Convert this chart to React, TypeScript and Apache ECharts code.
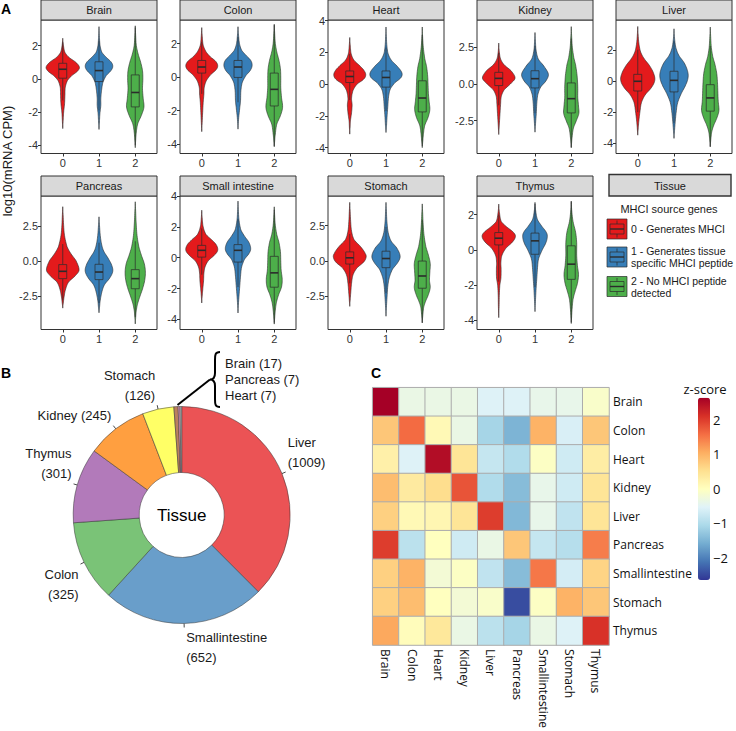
import React, { useEffect, useRef } from 'react';
import * as echarts from 'echarts';

// ---------- DATA ----------
const tissues = ['Brain', 'Colon', 'Heart', 'Kidney', 'Liver', 'Pancreas', 'Small intestine', 'Stomach', 'Thymus'];
const groupTicks = [0, 1, 2];
const groupColors = ['#E41A1C', '#377EB8', '#4DAF4A'];
const legendTitle = 'MHCI source genes';
const legendLabels = ['0 - Generates MHCI', '1 - Generates tissue\nspecific MHCI peptide', '2 - No MHCI peptide\ndetected'];

const yMin = [-4.5, -4.55, -4.37, -4.73, -4.69, -4.88, -4.65, -4.88, -4.51];
const yMax = [3.55, 3.4, 4.04, 4.35, 3.98, 4.62, 4.0, 4.6, 3.05];
const yTicks = [
  [-4, -2, 0, 2], [-4, -2, 0, 2], [-4, -2, 0, 2, 4], [-2.5, 0, 2.5], [-4, -2, 0, 2],
  [-2.5, 0, 2.5], [-4, -2, 0, 2, 4], [-2.5, 0, 2.5], [-4, -2, 0, 2],
];

// violin outlines: [value, half-width] knots, per group 0,1,2
const brainViolins = [
  [[2.45, 0], [2.0, 0.02], [1.6, 0.06], [1.3, 0.17], [1.0, 0.36], [0.7, 0.46], [0.45, 0.4], [0.2, 0.25], [-0.1, 0.13], [-0.5, 0.07], [-1.0, 0.06], [-1.5, 0.05], [-2.0, 0.025], [-2.5, 0.012], [-3.0, 0]],
  [[3.15, 0], [2.5, 0.012], [2.0, 0.03], [1.6, 0.08], [1.3, 0.2], [1.0, 0.34], [0.75, 0.38], [0.5, 0.33], [0.2, 0.2], [-0.2, 0.11], [-0.7, 0.07], [-1.2, 0.05], [-1.6, 0.05], [-2.1, 0.025], [-2.6, 0.012], [-3.05, 0]],
  [[3.2, 0], [2.6, 0.012], [2.0, 0.03], [1.5, 0.08], [1.0, 0.15], [0.5, 0.2], [0.0, 0.21], [-0.6, 0.2], [-1.2, 0.22], [-1.7, 0.24], [-2.2, 0.17], [-2.7, 0.07], [-3.2, 0.03], [-3.7, 0.012], [-4.15, 0]],
];
const colonViolins = [
  [[2.95, 0], [2.4, 0.015], [1.9, 0.04], [1.5, 0.12], [1.2, 0.24], [0.95, 0.38], [0.7, 0.44], [0.45, 0.4], [0.15, 0.25], [-0.2, 0.13], [-0.6, 0.07], [-1.0, 0.06], [-1.5, 0.04], [-2.1, 0.025], [-2.7, 0.012], [-3.25, 0]],
  [[3.0, 0], [2.5, 0.015], [2.0, 0.04], [1.6, 0.1], [1.3, 0.22], [1.0, 0.35], [0.7, 0.39], [0.4, 0.34], [0.1, 0.22], [-0.3, 0.12], [-0.8, 0.08], [-1.4, 0.07], [-1.8, 0.05], [-2.4, 0.02], [-3.1, 0]],
  [[3.15, 0], [2.6, 0.012], [2.0, 0.03], [1.5, 0.07], [1.0, 0.13], [0.5, 0.17], [0.0, 0.18], [-0.6, 0.18], [-1.2, 0.2], [-1.8, 0.23], [-2.3, 0.17], [-2.8, 0.07], [-3.4, 0.03], [-3.8, 0.012], [-4.15, 0]],
];
const heartViolins = [
  [[2.94, 0], [2.4, 0.015], [1.9, 0.04], [1.5, 0.12], [1.1, 0.3], [0.8, 0.41], [0.55, 0.44], [0.3, 0.38], [0.0, 0.2], [-0.4, 0.09], [-0.9, 0.05], [-1.3, 0.065], [-1.8, 0.05], [-2.3, 0.02], [-2.7, 0.01], [-3.15, 0]],
  [[3.6, 0], [3.0, 0.01], [2.4, 0.025], [1.9, 0.06], [1.5, 0.15], [1.1, 0.32], [0.7, 0.44], [0.4, 0.41], [0.1, 0.25], [-0.3, 0.12], [-0.8, 0.07], [-1.4, 0.05], [-2.0, 0.03], [-2.6, 0.015], [-3.05, 0]],
  [[3.6, 0], [3.0, 0.01], [2.3, 0.03], [1.6, 0.07], [1.1, 0.12], [0.5, 0.15], [0.0, 0.16], [-0.6, 0.17], [-1.1, 0.19], [-1.6, 0.21], [-2.1, 0.16], [-2.6, 0.07], [-3.1, 0.035], [-3.6, 0.015], [-4.0, 0]],
];
const kidneyViolins = [
  [[2.78, 0], [2.2, 0.015], [1.7, 0.05], [1.3, 0.15], [0.9, 0.34], [0.4, 0.45], [0.0, 0.32], [-0.4, 0.15], [-0.85, 0.07], [-1.4, 0.05], [-2.0, 0.035], [-2.6, 0.02], [-3.0, 0.01], [-3.44, 0]],
  [[3.5, 0], [2.9, 0.012], [2.3, 0.03], [1.7, 0.09], [1.2, 0.25], [0.65, 0.37], [0.2, 0.3], [-0.2, 0.16], [-0.7, 0.08], [-1.3, 0.05], [-2.0, 0.035], [-2.7, 0.015], [-3.28, 0]],
  [[3.9, 0], [3.2, 0.012], [2.5, 0.03], [1.8, 0.07], [1.3, 0.12], [0.6, 0.16], [-0.2, 0.18], [-0.9, 0.18], [-1.5, 0.2], [-2.0, 0.21], [-2.5, 0.14], [-3.0, 0.06], [-3.6, 0.025], [-4.0, 0.01], [-4.34, 0]],
];
const liverViolins = [
  [[3.56, 0], [3.0, 0.012], [2.4, 0.035], [1.9, 0.08], [1.5, 0.17], [1.0, 0.33], [0.5, 0.44], [0.06, 0.47], [-0.4, 0.38], [-0.9, 0.2], [-1.4, 0.1], [-2.0, 0.06], [-2.6, 0.03], [-3.1, 0.012], [-3.5, 0]],
  [[3.41, 0], [2.8, 0.015], [2.2, 0.05], [1.7, 0.13], [1.2, 0.28], [0.7, 0.37], [0.28, 0.39], [-0.2, 0.33], [-0.8, 0.2], [-1.4, 0.1], [-2.0, 0.06], [-2.6, 0.035], [-3.2, 0.015], [-3.71, 0]],
  [[3.52, 0], [2.9, 0.012], [2.2, 0.03], [1.6, 0.07], [1.1, 0.13], [0.5, 0.18], [-0.1, 0.2], [-0.7, 0.21], [-1.3, 0.22], [-1.9, 0.24], [-2.4, 0.18], [-2.9, 0.09], [-3.3, 0.04], [-3.8, 0.015], [-4.25, 0]],
];
const pancreasViolins = [
  [[3.86, 0], [3.2, 0.012], [2.5, 0.025], [1.8, 0.05], [1.0, 0.12], [0.5, 0.23], [0.0, 0.37], [-0.67, 0.45], [-1.1, 0.33], [-1.5, 0.16], [-2.0, 0.08], [-2.5, 0.04], [-3.0, 0.015], [-3.36, 0]],
  [[3.14, 0], [2.5, 0.015], [1.8, 0.035], [1.2, 0.07], [0.7, 0.13], [0.2, 0.25], [-0.3, 0.35], [-0.74, 0.38], [-1.2, 0.3], [-1.7, 0.15], [-2.2, 0.08], [-2.8, 0.035], [-3.3, 0.015], [-3.69, 0]],
  [[4.21, 0], [3.5, 0.012], [2.7, 0.025], [1.8, 0.05], [1.0, 0.1], [0.4, 0.17], [-0.2, 0.25], [-0.8, 0.28], [-1.4, 0.26], [-2.0, 0.2], [-2.6, 0.12], [-3.1, 0.06], [-3.6, 0.025], [-4.1, 0.01], [-4.48, 0]],
];
const smallIntestineViolins = [
  [[3.08, 0], [2.5, 0.015], [2.0, 0.04], [1.5, 0.12], [1.1, 0.3], [0.8, 0.41], [0.48, 0.44], [0.2, 0.36], [-0.2, 0.18], [-0.6, 0.09], [-1.0, 0.06], [-1.5, 0.05], [-2.0, 0.03], [-2.5, 0.012], [-2.93, 0]],
  [[3.67, 0], [3.0, 0.012], [2.4, 0.03], [1.8, 0.08], [1.4, 0.18], [1.0, 0.3], [0.6, 0.35], [0.3, 0.31], [-0.1, 0.18], [-0.6, 0.1], [-1.2, 0.07], [-1.8, 0.05], [-2.4, 0.03], [-3.0, 0.012], [-3.58, 0]],
  [[3.3, 0], [2.7, 0.012], [2.1, 0.03], [1.5, 0.07], [1.0, 0.13], [0.4, 0.17], [-0.2, 0.18], [-0.8, 0.19], [-1.4, 0.22], [-1.9, 0.2], [-2.4, 0.12], [-2.9, 0.06], [-3.4, 0.03], [-3.9, 0.012], [-4.3, 0]],
];
const stomachViolins = [
  [[4.15, 0], [3.5, 0.012], [2.8, 0.025], [2.1, 0.05], [1.5, 0.12], [1.0, 0.3], [0.5, 0.43], [0.23, 0.45], [-0.1, 0.38], [-0.5, 0.2], [-1.0, 0.09], [-1.6, 0.05], [-2.2, 0.03], [-2.8, 0.012], [-3.24, 0]],
  [[4.15, 0], [3.5, 0.012], [2.8, 0.025], [2.0, 0.06], [1.4, 0.14], [0.9, 0.3], [0.33, 0.39], [-0.1, 0.33], [-0.6, 0.18], [-1.2, 0.09], [-1.8, 0.05], [-2.5, 0.03], [-3.3, 0.012], [-3.94, 0]],
  [[4.04, 0], [3.4, 0.012], [2.6, 0.025], [1.8, 0.05], [1.0, 0.1], [0.4, 0.17], [-0.2, 0.22], [-0.8, 0.21], [-1.4, 0.2], [-1.9, 0.22], [-2.4, 0.17], [-2.9, 0.09], [-3.3, 0.04], [-3.9, 0.015], [-4.41, 0]],
];
const thymusViolins = [
  [[2.59, 0], [2.1, 0.02], [1.6, 0.07], [1.3, 0.22], [1.0, 0.4], [0.76, 0.46], [0.45, 0.38], [0.1, 0.2], [-0.3, 0.09], [-0.7, 0.06], [-1.1, 0.065], [-1.6, 0.06], [-2.0, 0.03], [-2.6, 0.015], [-3.2, 0.01], [-3.84, 0]],
  [[2.69, 0], [2.2, 0.02], [1.7, 0.07], [1.3, 0.2], [1.0, 0.31], [0.76, 0.34], [0.4, 0.3], [0.0, 0.2], [-0.5, 0.1], [-1.0, 0.07], [-1.6, 0.05], [-2.2, 0.03], [-2.8, 0.015], [-3.5, 0]],
  [[2.75, 0], [2.2, 0.015], [1.6, 0.05], [1.0, 0.12], [0.4, 0.15], [-0.3, 0.15], [-0.9, 0.17], [-1.4, 0.2], [-1.9, 0.17], [-2.4, 0.1], [-2.8, 0.05], [-3.3, 0.025], [-3.8, 0.01], [-4.17, 0]],
];

// boxplot stats per group: [lower whisker, Q1, median, Q3, upper whisker]
const brainBoxes = [[-1.3, 0.04, 0.58, 0.94, 2.2], [-1.9, -0.16, 0.5, 1.03, 2.3], [-4.0, -1.69, -0.82, 0.24, 3.1]];
const colonBoxes = [[-1.0, 0.24, 0.6, 0.99, 2.1], [-1.5, -0.02, 0.6, 0.99, 2.4], [-4.1, -1.72, -0.73, 0.24, 3.1]];
const heartBoxes = [[-1.0, 0.1, 0.48, 0.83, 1.9], [-1.7, -0.19, 0.42, 0.83, 2.3], [-3.9, -1.75, -0.875, 0.21, 3.1]];
const kidneyBoxes = [[-1.45, -0.11, 0.38, 0.79, 2.1], [-2.0, -0.27, 0.36, 0.9, 2.6], [-4.3, -1.97, -1.0, 0.07, 3.1]];
const liverBoxes = [[-2.0, -0.63, 0.0, 0.45, 2.05], [-2.7, -0.69, 0.06, 0.65, 2.6], [-4.25, -1.94, -1.08, -0.22, 2.3]];
const pancreasBoxes = [[-2.8, -1.26, -0.74, -0.26, 1.2], [-3.0, -1.33, -0.79, -0.24, 1.3], [-4.0, -1.98, -1.26, -0.62, 1.4]];
const smallIntestineBoxes = [[-1.1, 0.04, 0.48, 0.8, 1.9], [-1.9, -0.28, 0.48, 0.85, 2.5], [-4.2, -1.91, -0.98, 0.09, 3.1]];
const stomachBoxes = [[-1.6, -0.23, 0.21, 0.63, 1.9], [-2.3, -0.49, 0.16, 0.68, 2.4], [-4.4, -1.95, -1.08, -0.02, 2.9]];
const thymusBoxes = [[-1.8, 0.28, 0.66, 0.98, 2.0], [-2.1, -0.25, 0.51, 0.95, 2.6], [-4.1, -1.67, -0.81, 0.23, 2.75]];

const violinSets = [brainViolins, colonViolins, heartViolins, kidneyViolins, liverViolins, pancreasViolins, smallIntestineViolins, stomachViolins, thymusViolins];
const boxSets = [brainBoxes, colonBoxes, heartBoxes, kidneyBoxes, liverBoxes, pancreasBoxes, smallIntestineBoxes, stomachBoxes, thymusBoxes];

// pie
const pieNames = ['Liver', 'Smallintestine', 'Colon', 'Thymus', 'Kidney', 'Stomach', 'Brain', 'Pancreas', 'Heart'];
const pieValues = [1009, 652, 325, 301, 245, 126, 17, 7, 7];
const pieColors = ['#EB5355', '#699ECA', '#7AC377', '#B27ABA', '#FF9F40', '#FFFF66', '#BC805E', '#F9A1CF', '#B3B3B3'];
const pieSmallNote = ['Brain (17)', 'Pancreas (7)', 'Heart (7)'];

// heatmap
const heatLabels = ['Brain', 'Colon', 'Heart', 'Kidney', 'Liver', 'Pancreas', 'Smallintestine', 'Stomach', 'Thymus'];
const zBrain = [2.64, -0.35, -0.35, -0.35, -0.55, -0.55, -0.4, -0.4, -0.1];
const zColon = [0.8, 1.6, 0.1, -0.35, -1.1, -1.5, 1.0, -0.6, 0.8];
const zHeart = [0.25, -0.55, 2.5, 0.45, -0.8, -1.0, -0.05, -0.7, 0.3];
const zKidney = [0.9, 0.35, 0.55, 1.8, -1.0, -1.4, -0.4, -0.7, 0.45];
const zLiver = [0.7, 0.1, 0.15, 0.45, 2.0, -1.45, -0.4, -0.85, 0.45];
const zPancreas = [2.0, -0.9, 0.0, -0.7, -0.35, 0.8, -0.8, -0.95, 1.45];
const zSmallintestine = [0.7, 1.0, -0.2, -0.05, -0.85, -1.4, 1.5, -0.65, 0.65];
const zStomach = [0.7, 0.9, 0.0, -0.2, -0.1, -2.45, -0.05, 1.0, 0.8];
const zThymus = [1.1, 0.05, 0.4, -0.35, -0.9, -1.1, -0.35, -0.55, 2.1];
const zRows = [zBrain, zColon, zHeart, zKidney, zLiver, zPancreas, zSmallintestine, zStomach, zThymus];
const zMin = -2.64;
const zMax = 2.64;
const zTicks = [-2, -1, 0, 1, 2];
const heatColors = ['#313695', '#4575B4', '#74ADD1', '#ABD9E9', '#E0F3F8', '#FFFFBF', '#FEE090', '#FDAE61', '#F46D43', '#D73027', '#A50026'];

// ---------- LAYOUT ----------
const FONT = 'Liberation Sans';
const colLefts = [41, 180, 328, 477, 616];
const panelW = 116;
const rowTops = [20, 196];
const panelH = 133.5;
const stripH = 20;
const INK = '#2B2B2B';

const braceD = 'M10,0 C5,0 5,3 5,8 L5,21 C5,25.5 3,27.5 0,27.5 C3,27.5 5,29.5 5,34 L5,47 C5,52 5,55 10,55';
echarts.graphic.registerShape('brace', echarts.graphic.extendPath(braceD, {}));

// Catmull-Rom resampling of the outline knots (rendering only)
function resample(knots: number[][]): number[][] {
  const out: number[][] = [];
  const n = knots.length;
  const steps = 6;
  for (let i = 0; i < n - 1; i++) {
    const p0 = knots[Math.max(i - 1, 0)];
    const p1 = knots[i];
    const p2 = knots[i + 1];
    const p3 = knots[Math.min(i + 2, n - 1)];
    for (let s = 0; s < steps; s++) {
      const t = s / steps;
      const t2 = t * t, t3 = t2 * t;
      const f = (a: number, b: number, c: number, d: number) =>
        0.5 * (2 * b + (-a + c) * t + (2 * a - 5 * b + 4 * c - d) * t2 + (-a + 3 * b - 3 * c + d) * t3);
      const y = p1[0] + (p2[0] - p1[0]) * t;
      const w = f(p0[1], p1[1], p2[1], p3[1]);
      out.push([y, Math.max(w, 0.004)]);
    }
  }
  out.push([knots[n - 1][0], 0]);
  out[0][1] = 0;
  return out;
}

function makeRenderItem(shapes: number[][][], boxes: number[][]) {
  return (params: any, api: any) => {
    const g = api.value(0);
    const knots = resample(shapes[g]);
    const pts: number[][] = [];
    for (const [y, w] of knots) pts.push(api.coord([g + w, y]));
    for (let k = knots.length - 2; k >= 1; k--) {
      const [y, w] = knots[k];
      pts.push(api.coord([g - w, y]));
    }
    const [lo, q1, med, q3, hi] = boxes[g];
    const bw = 0.11;
    const pTop = api.coord([g - bw, q3]);
    const pBot = api.coord([g + bw, q1]);
    const pHi = api.coord([g, hi]);
    const pLo = api.coord([g, lo]);
    const mL = api.coord([g - bw, med]);
    const mR = api.coord([g + bw, med]);
    const col = groupColors[g];
    return {
      type: 'group',
      children: [
        { type: 'polygon', shape: { points: pts }, style: { fill: col, stroke: INK, lineWidth: 0.6 } },
        { type: 'line', shape: { x1: pHi[0], y1: pHi[1], x2: pHi[0], y2: pTop[1] }, style: { stroke: INK, lineWidth: 0.7 } },
        { type: 'line', shape: { x1: pLo[0], y1: pBot[1], x2: pLo[0], y2: pLo[1] }, style: { stroke: INK, lineWidth: 0.7 } },
        { type: 'rect', shape: { x: pTop[0], y: pTop[1], width: pBot[0] - pTop[0], height: pBot[1] - pTop[1] }, style: { fill: col, stroke: INK, lineWidth: 0.7 } },
        { type: 'line', shape: { x1: mL[0], y1: mL[1], x2: mR[0], y2: mR[1] }, style: { stroke: INK, lineWidth: 1.6 } },
      ],
    };
  };
}

function buildOption() {
  const grid: any[] = [];
  const xAxis: any[] = [];
  const yAxis: any[] = [];
  const series: any[] = [];
  const graphic: any[] = [];

  tissues.forEach((t, i) => {
    const row = i < 5 ? 0 : 1;
    const col = i < 5 ? i : i - 5;
    const left = colLefts[col];
    const top = rowTops[row];
    grid.push({ left, top, width: panelW, height: panelH, show: true, borderColor: '#333', borderWidth: 1, backgroundColor: 'transparent' });
    xAxis.push({
      gridIndex: i, type: 'value', min: -0.6, max: 2.6, position: 'bottom',
      axisLine: { show: false, onZero: false }, splitLine: { show: false },
      axisTick: { show: true, length: 3, customValues: groupTicks, lineStyle: { color: '#333' } },
      axisLabel: { customValues: groupTicks, color: '#333', fontSize: 11, fontFamily: FONT, margin: 4 },
    });
    const dec = yTicks[i].some((v) => v % 1 !== 0);
    yAxis.push({
      gridIndex: i, type: 'value', min: yMin[i], max: yMax[i], position: 'left',
      axisLine: { show: false, onZero: false }, splitLine: { show: false },
      axisTick: { show: true, length: 3, customValues: yTicks[i], lineStyle: { color: '#333' } },
      axisLabel: { customValues: yTicks[i], color: '#333', fontSize: 11, fontFamily: FONT, margin: 3, formatter: (v: number) => (dec ? v.toFixed(1) : String(v)) },
    });
    series.push({
      type: 'custom', xAxisIndex: i, yAxisIndex: i,
      renderItem: makeRenderItem(violinSets[i] as any, boxSets[i]),
      data: groupTicks.map((g) => [g, boxSets[i][g][2]]),
      silent: true, clip: false,
    });
    graphic.push({ type: 'rect', shape: { x: left, y: top - stripH, width: panelW, height: stripH }, style: { fill: '#D9D9D9', stroke: '#333', lineWidth: 1 } });
    graphic.push({ type: 'text', x: left + panelW / 2, y: top - stripH / 2, style: { text: t, fontSize: 11, fontFamily: FONT, fill: '#1A1A1A', align: 'center', verticalAlign: 'middle' } });
  });

  // heatmap grid (index 9)
  const hmLeft = 372.7, hmTop = 387.7, hmW = 236.3, hmH = 264;
  grid.push({ left: hmLeft, top: hmTop, width: hmW, height: hmH });
  xAxis.push({
    gridIndex: 9, type: 'category', data: heatLabels, position: 'bottom',
    axisLine: { show: false }, axisTick: { show: false }, splitLine: { show: false },
    axisLabel: { rotate: -90, fontSize: 12, fontFamily: 'Open Sans', color: '#111', margin: 4 },
  });
  yAxis.push({
    gridIndex: 9, type: 'category', data: heatLabels, inverse: true, position: 'right',
    axisLine: { show: false }, axisTick: { show: false }, splitLine: { show: false },
    axisLabel: { fontSize: 12, fontFamily: 'Open Sans', color: '#111', margin: 4 },
  });
  // colorbar axis grid (index 10)
  const cbTop = 397.7, cbH = 182.3;
  grid.push({ left: 705, top: cbTop, width: 5, height: cbH });
  xAxis.push({ gridIndex: 10, type: 'value', show: false });
  yAxis.push({
    gridIndex: 10, type: 'value', min: zMin, max: zMax, position: 'right',
    axisLine: { show: false, onZero: false }, axisTick: { show: false }, splitLine: { show: false },
    axisLabel: { customValues: zTicks, fontSize: 13, fontFamily: 'Open Sans', color: '#111', margin: 3, formatter: (v: number) => (v < 0 ? '\u2212' + Math.abs(v) : String(v)) },
  });

  // pie (series 9)
  series.push({
    type: 'pie', center: [181.7, 515], radius: [42.5, 108.5], startAngle: 90, clockwise: true,
    avoidLabelOverlap: false, silent: true,
    itemStyle: { borderColor: '#333', borderWidth: 0.5 },
    data: pieNames.map((n, k) => ({
      name: n, value: pieValues[k], itemStyle: { color: pieColors[k] },
      label: { show: k < 6 }, labelLine: { show: k < 6 },
    })),
    label: {
      show: true, position: 'outside', fontSize: 13, fontFamily: FONT, color: '#1A1A1A', lineHeight: 20,
      formatter: (p: any) => p.name + (p.name === 'Kidney' ? ' ' : '\n') + '(' + p.value + ')',
    },
    labelLine: { show: true, length: 4, length2: 0, lineStyle: { color: '#1A1A1A', width: 0.8 } },
    labelLayout: (params: any) => {
      const pts = params.labelLinePoints;
      if (!pts || pts.length < 2) return {};
      const a = pts[0];
      const b = pts[pts.length - 1];
      const right = b[0] >= a[0];
      const up = b[1] < a[1];
      return { x: b[0] + (right ? 2 : -2), y: b[1], align: right ? 'left' : 'right', verticalAlign: up ? 'bottom' : 'top', labelLinePoints: pts };
    },
  });

  // heatmap (series 10)
  const hmData: number[][] = [];
  zRows.forEach((row, r) => row.forEach((v, c) => hmData.push([c, r, v])));
  series.push({
    type: 'heatmap', xAxisIndex: 9, yAxisIndex: 9, data: hmData, silent: true,
    itemStyle: { borderColor: '#ACACAC', borderWidth: 1 },
  });
  // colorbar axis holder (series 11)
  series.push({ type: 'scatter', xAxisIndex: 10, yAxisIndex: 10, data: [], silent: true });

  // ---- graphic annotations ----
  graphic.push({ type: 'text', x: 1, y: 2, style: { text: 'A', fontSize: 14, fontWeight: 'bold', fontFamily: FONT, fill: '#000' } });
  graphic.push({ type: 'text', x: 1, y: 366, style: { text: 'B', fontSize: 14, fontWeight: 'bold', fontFamily: FONT, fill: '#000' } });
  graphic.push({ type: 'text', x: 371, y: 366, style: { text: 'C', fontSize: 14, fontWeight: 'bold', fontFamily: FONT, fill: '#000' } });
  graphic.push({ type: 'text', x: 7.5, y: 161, rotation: Math.PI / 2, style: { text: 'log10(mRNA CPM)', fontSize: 13, fontFamily: FONT, fill: '#1A1A1A', align: 'center', verticalAlign: 'middle' } });

  // legend
  graphic.push({ type: 'rect', shape: { x: 609, y: 174.5, width: 122, height: 21.5 }, style: { fill: '#D9D9D9', stroke: '#333', lineWidth: 1.4 } });
  graphic.push({ type: 'text', x: 670, y: 185.5, style: { text: 'Tissue', fontSize: 11, fontFamily: FONT, fill: '#1A1A1A', align: 'center', verticalAlign: 'middle' } });
  graphic.push({ type: 'text', x: 669, y: 209, style: { text: legendTitle, fontSize: 11, fontFamily: FONT, fill: '#1A1A1A', align: 'center', verticalAlign: 'middle' } });
  const keyYs = [219, 247, 276.5];
  legendLabels.forEach((lab, k) => {
    const x = 607, y = keyYs[k], s = 20;
    graphic.push({ type: 'rect', shape: { x, y, width: s, height: s }, style: { fill: groupColors[k], stroke: INK, lineWidth: 0.7 } });
    graphic.push({ type: 'line', shape: { x1: x + s / 2, y1: y + 1.5, x2: x + s / 2, y2: y + 5 }, style: { stroke: INK, lineWidth: 0.7 } });
    graphic.push({ type: 'line', shape: { x1: x + s / 2, y1: y + 15, x2: x + s / 2, y2: y + 18.5 }, style: { stroke: INK, lineWidth: 0.7 } });
    graphic.push({ type: 'rect', shape: { x: x + 3, y: y + 5, width: 14, height: 10 }, style: { fill: 'none', stroke: INK, lineWidth: 0.7 } });
    graphic.push({ type: 'line', shape: { x1: x + 3, y1: y + 10, x2: x + 17, y2: y + 10 }, style: { stroke: INK, lineWidth: 1.4 } });
    graphic.push({ type: 'text', x: 631, y: y + s / 2, style: { text: lab, fontSize: 10.5, fontFamily: FONT, fill: '#1A1A1A', align: 'left', verticalAlign: 'middle', lineHeight: 12 } });
  });

  // pie centre and small-slice note
  graphic.push({ type: 'text', x: 181.7, y: 515, style: { text: 'Tissue', fontSize: 17, fontFamily: FONT, fill: '#000', align: 'center', verticalAlign: 'middle' } });
  graphic.push({ type: 'brace', x: 210, y: 352, style: { fill: 'none', stroke: '#000', lineWidth: 2 } });
  graphic.push({ type: 'line', shape: { x1: 210, y1: 379.5, x2: 177.5, y2: 405 }, style: { stroke: '#000', lineWidth: 2 } });
  graphic.push({ type: 'text', x: 225, y: 379.5, style: { text: pieSmallNote.join('\n'), fontSize: 13, fontFamily: FONT, fill: '#1A1A1A', align: 'left', verticalAlign: 'middle', lineHeight: 16 } });

  // colorbar title
  graphic.push({ type: 'text', x: 705, y: 388.5, style: { text: 'z-score', fontSize: 13, fontFamily: 'Open Sans', fill: '#111', align: 'center', verticalAlign: 'middle' } });

  return {
    animation: false,
    backgroundColor: '#FFFFFF',
    textStyle: { fontFamily: FONT },
    grid, xAxis, yAxis, series, graphic,
    visualMap: [{
      type: 'continuous', seriesIndex: 10, min: zMin, max: zMax, calculable: false, hoverLink: false,
      left: 698, top: cbTop, itemWidth: 12, itemHeight: cbH, padding: 0, orient: 'vertical',
      inRange: { color: heatColors }, textStyle: { fontSize: 0 },
    }],
  };
}

export default function App() {
  const ref = useRef<HTMLDivElement>(null);
  useEffect(() => {
    if (!ref.current) return;
    const chart = echarts.init(ref.current, null, { renderer: 'svg' });
    chart.setOption(buildOption() as any);
    return () => chart.dispose();
  }, []);
  return <div ref={ref} style={{ position: 'fixed', left: 0, top: 0, width: 736, height: 731, background: '#fff' }} />;
}
